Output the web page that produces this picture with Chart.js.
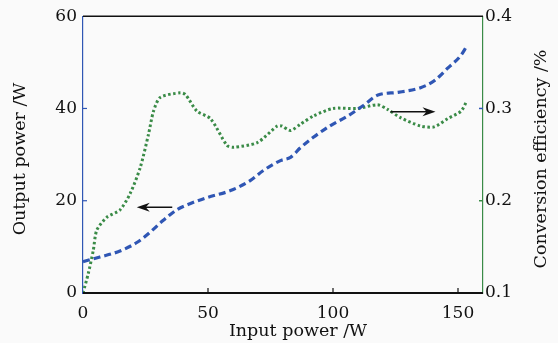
<!DOCTYPE html>
<html>
<head>
<meta charset="utf-8">
<script src="https://cdn.jsdelivr.net/npm/chart.js@4/dist/chart.umd.min.js"></script>
<style>
  html, body { margin: 0; padding: 0; background: #fafafa; }
  #wrap { width: 558px; height: 343px; }
</style>
</head>
<body>
<div id="wrap"><canvas id="c" width="558" height="343"></canvas></div>
<script>
// Output power (left axis, W) vs input power (W)
const powerX = [0, 6.8, 14.8, 21.7, 26.9, 32, 37.7, 43, 49.7, 59, 67, 72, 79, 83, 87, 92, 99, 106, 112, 118, 126, 135, 140.5, 146, 151, 153.5];
const powerY = [6.8, 7.8, 9.1, 11, 13.2, 15.7, 18.1, 19.4, 20.7, 22.2, 24.4, 26.5, 28.7, 29.4, 31.5, 33.7, 36.3, 38.4, 40.6, 42.9, 43.5, 44.5, 46, 48.8, 51.4, 53.5];
// Conversion efficiency (right axis) vs input power (W)
const effX = [0, 2.1, 4.1, 5.5, 9.5, 14.8, 18.9, 22.9, 26.2, 28.2, 30.9, 38.9, 41, 45.6, 51, 57.6, 60.3, 69.7, 77.7, 79.5, 83, 87, 92.3, 100, 109.8, 117.8, 121.8, 127, 135, 140.4, 145.9, 151.2, 153.5];
const effY = [0.1, 0.121, 0.146, 0.168, 0.182, 0.19, 0.208, 0.236, 0.272, 0.297, 0.312, 0.317, 0.315, 0.297, 0.289, 0.26, 0.258, 0.263, 0.281, 0.281, 0.276, 0.283, 0.292, 0.3, 0.3, 0.304, 0.299, 0.29, 0.281, 0.28, 0.289, 0.297, 0.308];
const xTicks = [0, 50, 100, 150];
const leftTicks = [0, 20, 40, 60];
const rightTicks = [0.1, 0.2, 0.3, 0.4];
const xTitle = 'Input power /W';
const leftTitle = 'Output power /W';
const rightTitle = 'Conversion efficiency /%';
// arrow annotations: [x from, x to, y (left axis units)]
const arrowLeft = [35.7, 21.5, 18.6];
const arrowRight = [123, 141, 39.3];

const BLUE = '#2f56b4';
const GREEN = '#3a8b47';
const FONT = 'DejaVu Serif';

const decor = {
  id: 'decor',
  afterDraw(chart) {
    const ctx = chart.ctx, a = chart.chartArea;
    const xs = chart.scales.x, yl = chart.scales.y, yr = chart.scales.y2;
    ctx.save();
    // top frame line
    ctx.strokeStyle = '#111'; ctx.lineWidth = 1.5;
    ctx.beginPath(); ctx.moveTo(a.left, a.top); ctx.lineTo(a.right, a.top); ctx.stroke();
    // bottom line
    ctx.lineWidth = 2;
    ctx.beginPath(); ctx.moveTo(a.left, a.bottom); ctx.lineTo(a.right, a.bottom); ctx.stroke();
    // inner ticks x
    ctx.lineWidth = 1.2;
    xTicks.slice(1).forEach(v => {
      const px = xs.getPixelForValue(v);
      ctx.beginPath(); ctx.moveTo(px, a.bottom); ctx.lineTo(px, a.bottom - 5); ctx.stroke();
    });
    // left ticks
    ctx.strokeStyle = BLUE;
    leftTicks.slice(1, 3).forEach(v => {
      const py = yl.getPixelForValue(v);
      ctx.beginPath(); ctx.moveTo(a.left, py); ctx.lineTo(a.left + 4, py); ctx.stroke();
    });
    // right ticks
    [[0.2, GREEN], [0.3, BLUE]].forEach(([v, c]) => {
      const py = yr.getPixelForValue(v);
      ctx.strokeStyle = c; ctx.lineWidth = 1.5;
      ctx.beginPath(); ctx.moveTo(a.right, py); ctx.lineTo(a.right - 4, py); ctx.stroke();
    });
    // arrows
    function arrow(x1, x2, yv) {
      const p1 = xs.getPixelForValue(x1), p2 = xs.getPixelForValue(x2), py = yl.getPixelForValue(yv);
      const dir = Math.sign(p2 - p1);
      ctx.strokeStyle = '#111'; ctx.fillStyle = '#111'; ctx.lineWidth = 1.5;
      ctx.beginPath(); ctx.moveTo(p1, py); ctx.lineTo(p2 - dir * 4, py); ctx.stroke();
      ctx.beginPath();
      ctx.moveTo(p2, py);
      ctx.lineTo(p2 - dir * 13, py - 4.5);
      ctx.lineTo(p2 - dir * 9, py);
      ctx.lineTo(p2 - dir * 13, py + 4.5);
      ctx.closePath(); ctx.fill();
    }
    arrow(arrowLeft[0], arrowLeft[1], arrowLeft[2]);
    arrow(arrowRight[0], arrowRight[1], arrowRight[2]);
    // axis titles
    ctx.fillStyle = '#111';
    ctx.font = '17.5px "' + FONT + '"';
    ctx.textAlign = 'center'; ctx.textBaseline = 'middle';
    ctx.fillText(xTitle, 298, 331);
    ctx.save(); ctx.translate(20, 159); ctx.rotate(-Math.PI / 2); ctx.fillText(leftTitle, 0, 0); ctx.restore();
    ctx.save(); ctx.translate(541, 159); ctx.rotate(-Math.PI / 2); ctx.fillText(rightTitle, 0, 0); ctx.restore();
    ctx.restore();
  }
};

new Chart(document.getElementById('c'), {
  type: 'line',
  data: {
    datasets: [
      {
        label: 'Output power',
        data: powerX.map((x, i) => ({ x, y: powerY[i] })),
        yAxisID: 'y',
        borderColor: BLUE,
        borderWidth: 3.2,
        borderDash: [7, 4],
        pointRadius: 0,
        tension: 0.4,
        cubicInterpolationMode: 'monotone',
        fill: false
      },
      {
        label: 'Conversion efficiency',
        data: effX.map((x, i) => ({ x, y: effY[i] })),
        yAxisID: 'y2',
        borderColor: GREEN,
        borderWidth: 3,
        borderDash: [2.5, 2.5],
        pointRadius: 0,
        tension: 0.25,
        fill: false
      }
    ]
  },
  options: {
    responsive: false,
    animation: false,
    layout: { padding: { top: 15, left: 0, right: 0, bottom: 0 } },
    plugins: { legend: { display: false }, tooltip: { enabled: false } },
    scales: {
      x: {
        type: 'linear', min: 0, max: 160,
        afterBuildTicks: s => { s.ticks = xTicks.map(v => ({ value: v })); },
        afterFit: s => { s.height = 50; },
        grid: { display: true, drawOnChartArea: false, drawTicks: false, color: 'transparent' },
        border: { display: false },
        ticks: { color: '#111', padding: 10, maxRotation: 0, font: { family: FONT, size: 17 } },
        title: { display: false }
      },
      y: {
        type: 'linear', position: 'left', min: 0, max: 60,
        afterBuildTicks: s => { s.ticks = leftTicks.map(v => ({ value: v })); },
        afterFit: s => { s.width = 83; },
        grid: { drawOnChartArea: false, drawTicks: false },
        border: { display: true, color: BLUE, width: 1.2 },
        ticks: { color: '#111', padding: 6, font: { family: FONT, size: 17 } },
        title: { display: false }
      },
      y2: {
        type: 'linear', position: 'right', min: 0.1, max: 0.4,
        afterBuildTicks: s => { s.ticks = rightTicks.map(v => ({ value: v })); },
        afterFit: s => { s.width = 75; },
        grid: { drawOnChartArea: false, drawTicks: false },
        border: { display: true, color: GREEN, width: 1.2 },
        ticks: { color: '#111', padding: 2, font: { family: FONT, size: 17 }, callback: v => v.toFixed(1) },
        title: { display: false }
      }
    }
  },
  plugins: [decor]
});
</script>
</body>
</html>
